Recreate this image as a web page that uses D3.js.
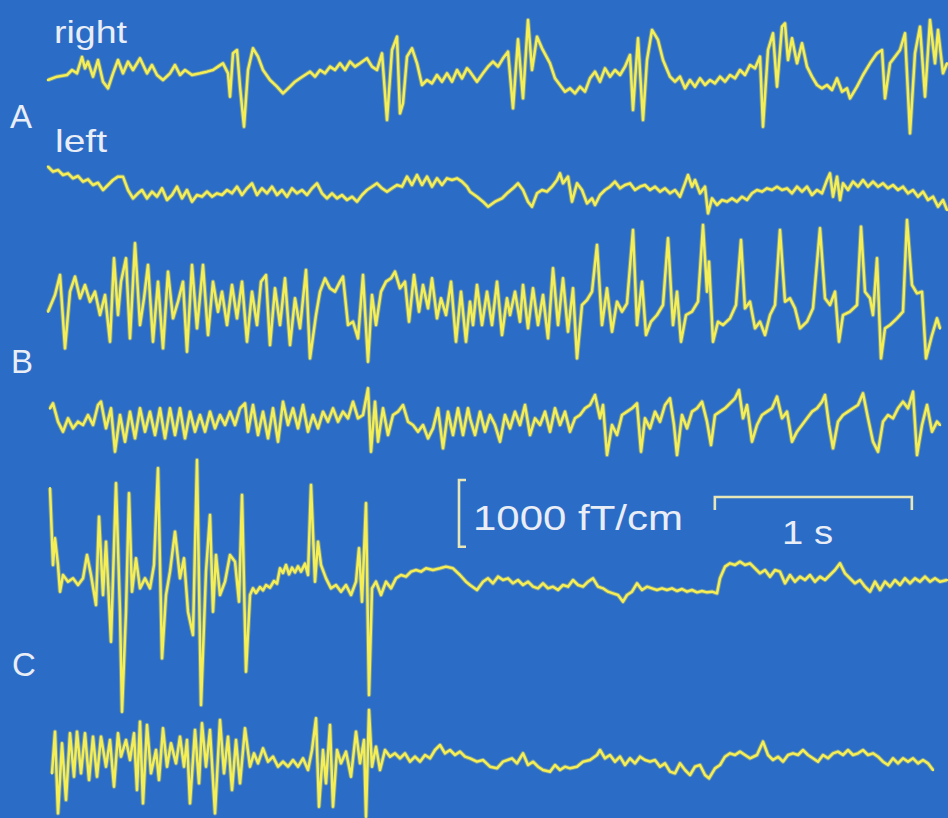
<!DOCTYPE html>
<html><head><meta charset="utf-8">
<script src="https://cdn.jsdelivr.net/npm/d3@7"></script>
<style>html,body{margin:0;padding:0;background:#2b6cc6;}svg{display:block}</style>
</head><body><svg id="c" width="948" height="818"></svg>
<script>
const FS = 197;
const aRightT = [0,9,19,24,29,34,37,40,45,50,55,60,65,70,75,80,85,92,99,104,109,115,122,127,132,137,144,152,159,165,170,175,180,182,185,189,192,196,200,205,210,215,222,229,235,242,247,252,257,262,267,272,277,282,287,292,297,302,307,312,319,324,329,334,339,344,349,352,355,359,364,369,374,379,384,389,394,399,404,409,414,419,
422,429,435,440,445,450,455,460,465,470,475,480,484,489,494,502,507,512,517,522,527,532,537,542,547,552,557,562,567,572,577,582,585,590,595,599,604,610,615,622,627,632,637,642,647,652,657,662,667,672,677,682,687,692,697,702,707,712,715,720,725,729,734,737,740,744,749,754,759,764,769,774,779,784,789,794,799,802,809,815,822,829,834,837,842,847,852,857,862,867,872,877,882,887,890,895,899];
const aRightV = [-75,-25,0,75,25,270,100,200,-25,225,-100,-200,25,225,25,200,75,250,25,150,0,-75,25,150,0,75,0,25,50,75,125,175,25,-325,325,375,-175,-775,75,400,275,75,-75,-175,-275,-175,-100,-50,0,50,-25,75,25,125,75,175,75,200,125,175,250,125,75,325,-675,375,575,-575,-425,275,400,175,-150,-75,-125,0,-100,25,-100,75,-50,100,
50,-100,25,125,200,125,250,350,-500,535,-350,825,75,575,400,175,-50,-150,-250,-200,-275,-175,-250,-50,50,-100,100,-25,75,0,125,300,-525,550,-675,225,675,525,225,-25,-100,-25,-200,-75,-175,-50,-150,-75,-125,-25,-100,0,-50,75,0,150,100,275,-775,375,625,-175,725,775,225,550,175,475,125,-25,-150,-200,-150,-225,-50,-250,-200,-350,-175,0,175,325,375,-350,175,275,375,625,-875,325,725,-325,825,175,675,25,175];

const aLeftT = [0,5,10,15,20,25,30,35,40,45,50,55,60,65,70,75,80,85,90,94,99,104,109,114,119,124,129,134,139,144,149,154,159,164,169,174,179,184,189,194,199,204,209,214,219,224,229,234,239,244,249,254,259,264,269,274,279,284,289,294,299,304,309,314,319,324,329,334,339,344,349,354,359,364,369,374,379,384,389,394,399,404,409,414,419,
422,429,435,440,447,454,459,465,470,475,480,484,489,494,499,504,509,512,515,520,524,529,534,539,544,547,552,557,562,567,572,577,582,587,592,597,602,607,612,617,622,627,632,637,640,644,647,652,657,660,664,669,674,679,684,689,694,699,704,709,714,719,724,729,734,739,744,749,754,759,764,769,774,779,782,785,789,792,795,800,805,810,815,820,825,830,835,840,845,850,855,860,865,870,875,880,885,890,895,899];
const aLeftV = [350,275,300,225,250,175,210,125,160,75,110,0,75,150,200,200,0,-125,-50,0,-125,-25,-100,25,-150,-75,50,-125,0,-175,-75,-100,-25,-100,-50,-75,0,-50,50,-75,25,100,-75,25,-50,50,-75,0,-100,25,-50,0,-75,25,100,-50,-125,-50,-125,-75,-150,-100,-175,-75,0,50,100,25,-25,25,75,50,200,75,225,75,200,50,175,75,175,150,175,125,50,
-25,-100,-175,-250,-175,-125,-50,25,100,0,-175,-250,-50,0,-25,50,150,250,100,200,-175,100,0,-200,-125,-225,-75,0,50,125,25,75,100,0,50,75,0,50,-25,25,-50,0,-100,100,225,50,150,-50,50,-350,-125,-225,-150,-175,-125,-175,-100,-150,-50,0,-25,25,0,50,0,25,-50,50,-25,50,-75,0,-50,150,250,-100,200,-150,100,0,125,50,150,50,125,50,100,25,75,0,50,-50,0,-100,-25,-150,-100,-250,-150,-300];

const bTopT = [0,7,12,17,22,27,32,37,42,47,52,57,62,66,70,73,78,82,87,92,96,100,105,110,115,120,125,130,135,139,144,149,155,160,165,170,174,179,184,189,194,199,204,209,213,218,222,227,232,237,242,247,252,258,262,268,272,277,282,287,292,295,300,305,310,315,320,324,328,333,338,343,347,352,357,361,366,371,375,380,384,389,393,398,403,408,413,418,
422,425,429,434,439,444,449,454,459,462,467,472,475,480,485,490,495,500,505,510,515,520,525,529,534,539,544,549,554,559,564,569,574,579,585,589,594,598,603,609,615,620,625,629,633,638,644,650,655,659,661,665,670,675,682,688,693,697,702,707,712,717,722,727,732,737,742,747,752,759,765,772,777,782,787,791,795,802,809,813,817,822,825,829,833,837,842,849,855,859,864,869,874,878,884,889,892];
const bTopV = [-175,75,375,-725,125,350,25,225,-25,125,-225,75,-625,625,-225,275,625,-575,850,-375,25,525,-625,275,-725,425,-275,-25,275,-775,525,-425,525,-525,275,-175,125,-375,225,-275,275,-625,125,-375,275,375,-675,175,-375,325,-675,25,-425,450,-875,-225,125,325,175,125,275,350,-375,-325,-575,375,-925,75,-375,125,275,325,425,175,275,-325,375,-175,225,-125,325,-275,25,-225,275,-625,125,-625,
-25,-375,225,-375,125,-375,275,-525,25,-225,125,-325,225,-425,175,-375,75,-575,475,-375,325,-475,175,-875,-75,0,125,825,-375,175,-475,-25,-175,-50,1050,-375,275,-525,-325,-225,-75,925,-375,125,-625,-225,-175,-25,1125,125,575,-625,-325,-375,-275,-75,900,-125,-25,-425,-325,-525,-225,-75,1050,-25,25,-125,-425,-325,-125,1075,25,-75,125,-625,-225,-175,-75,1100,125,25,-225,625,-875,-425,-375,-275,-175,1200,225,100,125,-875,-525,-275,-425];

const bBotT = [2,5,10,15,20,25,30,35,40,45,50,53,58,63,67,72,77,82,87,92,97,102,107,112,117,122,127,132,137,142,147,152,157,162,167,172,177,182,187,192,197,200,205,210,215,220,225,230,235,240,245,250,255,260,265,270,275,280,285,290,295,300,305,310,315,320,323,327,330,335,340,345,350,355,360,365,370,375,380,385,390,395,400,405,410,415,420,
422,427,432,437,442,447,452,457,462,467,472,477,482,487,492,497,502,507,512,517,522,527,532,537,542,547,552,555,559,564,569,574,579,584,589,593,597,602,607,612,617,622,626,629,634,639,644,649,654,659,663,667,672,677,682,687,691,695,699,704,709,714,719,724,729,734,739,744,749,754,759,764,769,774,777,781,785,790,795,800,805,810,815,820,825,830,835,840,845,850,855,860,865,869,874,879,884,889,892];
const bBotV = [175,250,-25,-175,25,-125,-25,-75,75,-75,225,275,-125,175,-475,75,-325,125,-275,175,-175,125,-225,175,-275,175,-225,175,-275,125,-175,75,-175,125,-125,75,-75,125,-75,175,250,-175,225,-225,125,-275,175,-325,275,-75,175,-125,225,-175,75,-125,125,-25,175,-25,125,25,275,25,75,475,-475,275,-325,175,-225,75,125,225,-25,-75,-175,-75,-275,-125,175,-425,125,-225,175,-225,175,
25,-225,125,-175,75,-75,-325,75,-125,125,-75,225,-225,25,-75,125,-175,175,-75,125,-175,25,75,175,225,375,25,225,-525,-75,-225,75,125,175,250,-475,25,-125,125,-25,225,325,-75,-525,75,-125,125,175,275,-25,-375,75,125,175,250,325,450,25,225,-325,-75,75,125,175,350,25,125,-325,-175,-75,25,125,175,275,375,-75,-425,-25,75,125,175,225,400,25,-325,-475,-25,75,25,175,275,175,425,-525,-75,225,-175,-25,-75];

const cTopT = [2,5,7,10,12,15,20,25,30,35,39,43,48,51,55,58,63,68,72,74,78,81,84,88,92,97,102,106,110,114,118,122,127,132,136,140,145,149,153,158,162,165,168,172,177,182,187,191,194,198,202,205,208,212,215,218,222,226,229,232,235,238,241,244,247,250,253,257,260,263,267,270,273,278,283,288,293,298,303,308,311,314,318,321,324,328,333,338,343,348,353,358,363,368,373,378,385,392,398,405,412,418,
422,429,435,440,445,450,455,460,465,470,475,480,485,490,495,500,505,510,515,520,525,530,535,540,545,550,555,560,565,570,575,579,584,589,594,599,604,609,614,619,624,629,634,639,644,649,654,659,664,669,672,677,682,687,692,697,702,707,712,717,722,727,732,737,742,747,752,757,762,767,772,777,782,787,792,797,802,807,812,817,822,827,832,837,842,847,852,857,862,867,872,877,882,887,892,899];
const cTopV = [1450,300,700,300,-100,150,50,100,0,100,450,150,-300,1025,-150,650,-850,1525,-400,-1900,-400,1375,-100,400,-50,100,-50,300,1750,-1100,-150,200,800,100,400,-400,-750,1875,-1800,200,1050,-400,450,-150,50,450,350,-250,1350,-1300,-150,-50,-120,-30,-80,0,-40,60,20,250,180,300,160,260,190,280,200,320,150,1500,50,650,300,100,-50,0,-100,0,-150,50,550,-250,1225,-1650,-50,50,-150,50,-50,100,150,125,200,225,200,250,225,250,275,250,150,50,
0,-75,50,100,25,125,75,100,25,75,0,50,-25,-50,25,-50,-25,-75,0,-25,75,0,-25,50,100,-25,-50,-100,-125,-150,-250,-150,-100,25,-75,-25,-50,-75,-50,-75,-50,-90,-60,-100,-75,-110,-90,-110,-100,-125,100,275,325,300,350,300,325,250,175,225,125,225,200,25,150,50,125,75,150,50,125,75,150,225,325,175,100,25,75,-25,-100,50,-75,50,-25,75,0,100,25,100,50,125,50,100,50,75];

const cBotT = [4,7,10,14,18,22,26,29,33,37,41,45,49,53,58,62,66,70,73,78,82,86,89,92,95,99,103,108,111,115,119,123,128,132,136,139,142,147,151,154,158,162,167,172,176,180,184,188,192,197,202,206,210,215,220,225,230,235,240,245,250,255,260,264,268,271,275,278,282,285,289,293,298,303,308,312,316,318,321,324,328,332,337,342,347,352,357,362,367,372,377,382,387,392,397,402,407,412,417,
422,429,435,442,449,455,464,469,475,480,485,490,495,502,507,512,517,522,529,535,542,549,552,557,562,567,572,577,582,587,592,597,602,607,612,617,622,627,632,637,642,647,652,657,661,667,672,677,682,687,692,697,702,709,715,720,725,730,735,740,745,750,755,760,765,770,775,780,785,790,795,800,805,810,815,820,825,830,835,840,845,850,855,860,865,870,875,880,885];
const cBotV = [-245,380,-845,205,-645,355,-295,380,-245,355,-345,305,-295,305,-145,255,-445,355,5,255,-45,355,-495,530,-695,480,-245,105,-345,430,-145,205,-95,305,-145,255,-695,405,-395,505,-145,405,-845,555,-245,305,-495,255,-395,430,-145,55,-95,130,-70,5,-145,-70,-145,-45,-145,-20,-195,105,580,-745,105,-395,480,-745,105,-95,80,-295,380,-95,255,-895,705,-145,155,-195,105,5,55,-20,55,-70,5,-70,30,-20,105,180,55,105,30,80,5,
-20,-70,-45,-145,-170,-70,-20,-95,55,-120,-70,-145,-195,-220,-120,-195,-145,-170,-145,-70,-45,30,105,-20,30,-70,5,-120,-20,-95,5,-45,-70,-45,-145,-95,-220,-245,-95,-195,-270,-145,-120,-270,-320,-170,-120,5,55,30,80,30,-20,30,230,30,-45,5,-70,30,55,30,105,30,-20,-70,30,-20,55,80,30,105,30,55,105,30,55,5,-70,-120,-20,-95,-20,-70,-20,-95,-45,-95,-195];

const groupLabels = ["A", "B", "C"];
const channelLabels = ["right", "left"];
const ampBarValue = 1000;   // fT/cm
const timeBarValue = 1;     // s
const ampBarText = "1000 fT/cm";
const timeBarText = "1 s";

const traces = [
  {t: aRightT, v: aRightV, base: 75},
  {t: aLeftT,  v: aLeftV,  base: 190},
  {t: bTopT,   v: bTopV,   base: 300},
  {t: bBotT,   v: bBotV,   base: 420},
  {t: cTopT,   v: cTopV,   base: 585},
  {t: cBotT,   v: cBotV,   base: 757}
];

const svg = d3.select("#c");
svg.append("rect").attr("width", 948).attr("height", 818).attr("fill", "#2b6cc6");

const x = d3.scaleLinear().domain([0, 1]).range([48, 48 + 197]);        // seconds -> px
const y = d3.scaleLinear().domain([0, 1000]).range([0, -66.7]);           // fT/cm -> px offset

const line = d3.line().x(d => x(d[0] / FS)).y(d => d[1]).curve(d3.curveLinear);

traces.forEach(tr => {
  const pts = d3.zip(tr.t, tr.v).map(([t, v]) => [t, tr.base + y(v)]);
  svg.append("path").attr("d", line(pts)).attr("fill", "none")
    .attr("stroke", "#e4dc5a").attr("stroke-opacity", 0.4).attr("stroke-width", 4.4)
    .attr("stroke-linejoin", "round");
  svg.append("path").attr("d", line(pts)).attr("fill", "none")
    .attr("stroke", "#f5ee55").attr("stroke-width", 2.5)
    .attr("stroke-linejoin", "round").attr("stroke-linecap", "round");
});

const font = "'Liberation Sans', Arial, Helvetica, sans-serif";
const txt = (s, px, py, size, len) => {
  const t = svg.append("text").attr("x", px).attr("y", py).text(s)
    .attr("font-family", font).attr("font-size", size).attr("fill", "#e9eef6");
  if (len) t.attr("textLength", len).attr("lengthAdjust", "spacingAndGlyphs");
  return t;
};
txt(channelLabels[0], 54, 43, 32, 73);
txt(channelLabels[1], 55, 152, 32, 52);
txt(groupLabels[0], 10, 128, 33);
txt(groupLabels[1], 11, 373, 33);
txt(groupLabels[2], 12, 676, 33);

// amplitude bracket
const bx = 459, by = 480;
svg.append("path")
  .attr("d", `M${bx + 7},${by} H${bx} V${by - y(ampBarValue)} H${bx + 7}`)
  .attr("fill", "none").attr("stroke", "#e6e6b8").attr("stroke-width", 2.6);
txt(ampBarText, 473, 530, 35, 210);

// time bar
const t0 = 3.385;
const tx0 = x(t0), tx1 = x(t0 + timeBarValue);
svg.append("path")
  .attr("d", `M${tx0},510 V497 H${tx1} V510`)
  .attr("fill", "none").attr("stroke", "#e6e6b8").attr("stroke-width", 2.6);
txt(timeBarText, 782, 544, 33, 51);
</script></body></html>
